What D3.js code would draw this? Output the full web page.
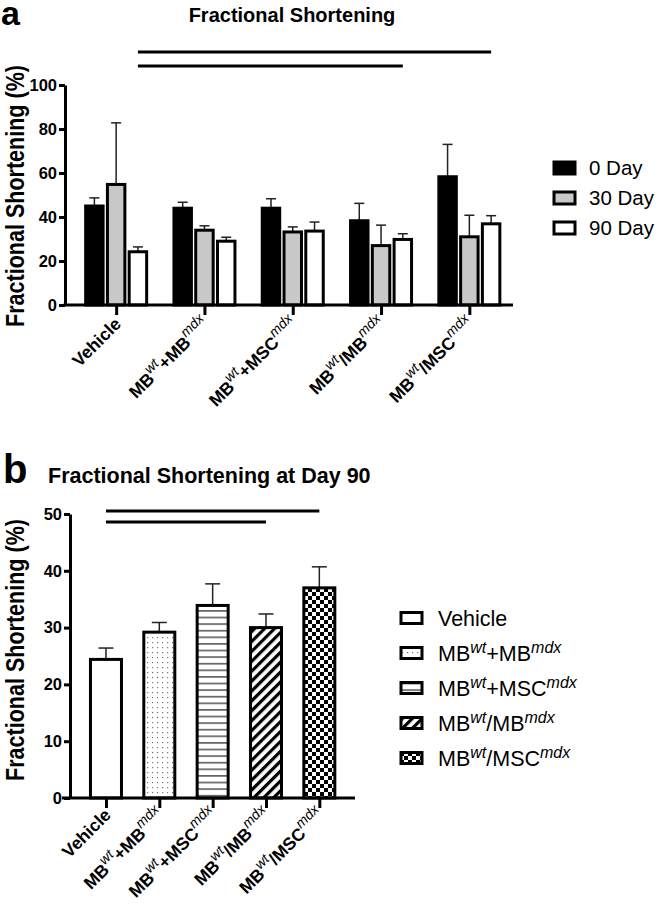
<!DOCTYPE html>
<html><head><meta charset="utf-8">
<script src="https://cdn.jsdelivr.net/npm/d3@7"></script>
<style>body{margin:0;background:#fff}svg{display:block}text{font-family:"Liberation Sans",Arial,sans-serif}</style>
</head><body>
<svg id="c" width="657" height="904"></svg>
<script>
// ---- data ----
const groups = ["Vehicle","MB+MB","MB+MSC","MB/MB","MB/MSC"];
const groupLabels = [
  [["Vehicle",""]],
  [["MB",""],["wt","sup"],["+MB",""],["mdx","sup"]],
  [["MB",""],["wt","sup"],["+MSC",""],["mdx","sup"]],
  [["MB",""],["wt","sup"],["/MB",""],["mdx","sup"]],
  [["MB",""],["wt","sup"],["/MSC",""],["mdx","sup"]]
];
const series = ["0 Day","30 Day","90 Day"];
const day0 = [45, 44, 44, 38.3, 58.3];
const day0Err = [48.7, 46.7, 48.3, 46.2, 73];
const day30 = [54.8, 34, 33.2, 27, 31];
const day30Err = [82.8, 36, 35.5, 36.3, 40.8];
const day90 = [24.2, 29, 33.6, 29.8, 36.9];
const day90Err = [26.4, 30.8, 37.7, 32.4, 40.6];
const yTicksA = [0,20,40,60,80,100];

const d90Values = [24.4, 29.2, 33.9, 30.0, 37.0];
const d90Err = [26.4, 30.9, 37.7, 32.4, 40.7];
const yTicksB = [0,10,20,30,40,50];
const patterns = ["none","dots","hlines","diag","checker"];

const svg = d3.select("#c");
const FONT = '"Liberation Sans",Arial,sans-serif';

// ---- pattern defs ----
const defs = svg.append("defs");
let p = defs.append("pattern").attr("id","dots").attr("patternUnits","userSpaceOnUse").attr("width",5).attr("height",5);
p.append("rect").attr("width",5).attr("height",5).attr("fill","#fff");
p.append("rect").attr("x",2).attr("y",2).attr("width",1.2).attr("height",1.2).attr("fill","#777");
p = defs.append("pattern").attr("id","hlines").attr("patternUnits","userSpaceOnUse").attr("width",6.6).attr("height",6.6);
p.append("rect").attr("width",6.6).attr("height",6.6).attr("fill","#fff");
p.append("rect").attr("x",0).attr("y",3).attr("width",6.6).attr("height",1.4).attr("fill","#444");
p = defs.append("pattern").attr("id","diag").attr("patternUnits","userSpaceOnUse").attr("width",7).attr("height",7).attr("patternTransform","rotate(45)");
p.append("rect").attr("width",7).attr("height",7).attr("fill","#fff");
p.append("rect").attr("x",0).attr("y",0).attr("width",3.2).attr("height",7).attr("fill","#000");
p = defs.append("pattern").attr("id","checker").attr("patternUnits","userSpaceOnUse").attr("width",8).attr("height",8);
p.append("rect").attr("width",8).attr("height",8).attr("fill","#fff");
p.append("rect").attr("x",0).attr("y",0).attr("width",4).attr("height",4).attr("fill","#000");
p.append("rect").attr("x",4).attr("y",4).attr("width",4).attr("height",4).attr("fill","#000");
const patFill = k => k==="none" ? "#fff" : `url(#${k})`;

const LBL = 17.5, TICK = 16.5;
function addLabel(sel, parts, size){
  parts.forEach(([t,kind])=>{
    const ts = sel.append("tspan").text(t);
    if(kind==="sup"){ts.attr("font-size",size*0.8).attr("font-style","italic").attr("font-weight","normal").attr("baseline-shift","super");}
  });
}
function yLabel(x, yc){
  svg.append("text").attr("transform",`translate(${x},${yc}) rotate(-90)`).attr("text-anchor","middle")
    .attr("font-size",25).attr("font-weight","bold")
    .attr("textLength",262).attr("lengthAdjust","spacingAndGlyphs")
    .text("Fractional Shortening (%)");
}

// ================= PANEL A =================
const A = {left:65, right:513, top:85, bottom:305};
const yA = d3.scaleLinear().domain([0,100]).range([A.bottom, A.top]);
const xA = d3.scalePoint().domain(groups).range([72,513.5]).padding(0.5);
const subA = d3.scaleBand().domain(series).range([-32,32]).paddingInner(0.06);
const fillsA = ["#000","#c8c8c8","#fff"];
const valsA = [day0, day30, day90];
const errsA = [day0Err, day30Err, day90Err];

svg.append("text").attr("x",1).attr("y",25).attr("font-size",34).attr("font-weight","bold").text("a");
svg.append("text").attr("x",292).attr("y",22).attr("text-anchor","middle").attr("font-size",20).attr("font-weight","bold").text("Fractional Shortening");

// error bars
series.forEach((s,si)=>{
  groups.forEach((g,gi)=>{
    const cx = xA(g)+subA(s)+subA.bandwidth()/2;
    svg.append("line").attr("x1",cx).attr("x2",cx).attr("y1",yA(valsA[si][gi])).attr("y2",yA(errsA[si][gi])).attr("stroke","#222").attr("stroke-width",1.5);
    svg.append("line").attr("x1",cx-5).attr("x2",cx+5).attr("y1",yA(errsA[si][gi])).attr("y2",yA(errsA[si][gi])).attr("stroke","#222").attr("stroke-width",1.5);
  });
});
// bars
series.forEach((s,si)=>{
  svg.append("g").selectAll("rect").data(groups).join("rect")
    .attr("x",g=>xA(g)+subA(s)+1.5)
    .attr("y",(g,gi)=>yA(valsA[si][gi]))
    .attr("width",subA.bandwidth()-3)
    .attr("height",(g,gi)=>A.bottom-yA(valsA[si][gi]))
    .attr("fill",fillsA[si]).attr("stroke","#000").attr("stroke-width",3);
});
// y axis
const gyA = svg.append("g").attr("transform",`translate(${A.left},0)`)
  .call(d3.axisLeft(yA).tickValues(yTicksA).tickSize(6).tickSizeOuter(0));
gyA.select(".domain").attr("stroke-width",3);
gyA.selectAll(".tick line").attr("stroke-width",3);
gyA.selectAll(".tick text").attr("font-size",TICK).attr("font-weight","bold").attr("font-family",FONT).attr("fill","#000").attr("x",-8);
// x axis
const gxA = svg.append("g").attr("transform",`translate(0,${A.bottom})`)
  .call(d3.axisBottom(xA).tickSize(10).tickSizeOuter(0).tickFormat(""));
gxA.select(".domain").remove();
gxA.selectAll(".tick line").attr("stroke-width",3);
svg.append("line").attr("x1",A.left-1.5).attr("x2",A.right).attr("y1",A.bottom).attr("y2",A.bottom).attr("stroke","#000").attr("stroke-width",3);
groups.forEach((g,gi)=>{
  const t = svg.append("text").attr("text-anchor","end").attr("font-size",LBL).attr("font-weight","bold")
    .attr("transform",`translate(${xA(g)+6},${A.bottom+20}) rotate(-45)`);
  addLabel(t, groupLabels[gi], LBL);
});
yLabel(24, 196);
// significance lines
[[0,4,52],[0,3,66]].forEach(([a,b,y])=>{
  svg.append("line").attr("x1",xA(groups[a])+subA("90 Day")+subA.bandwidth()/2).attr("x2",xA(groups[b])+subA("90 Day")+subA.bandwidth()/2)
    .attr("y1",y).attr("y2",y).attr("stroke","#000").attr("stroke-width",3);
});
// legend
series.forEach((s,si)=>{
  const y = 168 + si*30;
  svg.append("rect").attr("x",554).attr("y",y-6).attr("width",21).attr("height",12).attr("fill",fillsA[si]).attr("stroke","#000").attr("stroke-width",3);
  svg.append("text").attr("x",589).attr("y",y+7).attr("font-size",20.5).text(s);
});

// ================= PANEL B =================
const B = {left:70, right:355, top:514, bottom:798};
const yB = d3.scaleLinear().domain([0,50]).range([B.bottom,B.top]);
const xB = d3.scalePoint().domain(groups).range([79.3,346]).padding(0.5);
const bw = 31;

svg.append("text").attr("x",3).attr("y",483).attr("font-size",40).attr("font-weight","bold").text("b");
svg.append("text").attr("x",48).attr("y",483).attr("font-size",21.5).attr("font-weight","bold").text("Fractional Shortening at Day 90");

groups.forEach((g,gi)=>{
  const cx = xB(g);
  svg.append("line").attr("x1",cx).attr("x2",cx).attr("y1",yB(d90Values[gi])).attr("y2",yB(d90Err[gi])).attr("stroke","#222").attr("stroke-width",1.5);
  svg.append("line").attr("x1",cx-7.5).attr("x2",cx+7.5).attr("y1",yB(d90Err[gi])).attr("y2",yB(d90Err[gi])).attr("stroke","#222").attr("stroke-width",1.5);
});
svg.append("g").selectAll("rect").data(groups).join("rect")
  .attr("x",g=>xB(g)-bw/2).attr("y",(g,gi)=>yB(d90Values[gi]))
  .attr("width",bw).attr("height",(g,gi)=>B.bottom-yB(d90Values[gi]))
  .attr("fill",(g,gi)=>patFill(patterns[gi])).attr("stroke","#000").attr("stroke-width",3);

const gyB = svg.append("g").attr("transform",`translate(${B.left},0)`)
  .call(d3.axisLeft(yB).tickValues(yTicksB).tickSize(6).tickSizeOuter(0));
gyB.select(".domain").attr("stroke-width",3);
gyB.selectAll(".tick line").attr("stroke-width",3);
gyB.selectAll(".tick text").attr("font-size",TICK).attr("font-weight","bold").attr("font-family",FONT).attr("fill","#000").attr("x",-8);
const gxB = svg.append("g").attr("transform",`translate(0,${B.bottom})`)
  .call(d3.axisBottom(xB).tickSize(10).tickSizeOuter(0).tickFormat(""));
gxB.select(".domain").remove();
gxB.selectAll(".tick line").attr("stroke-width",3);
svg.append("line").attr("x1",62).attr("x2",B.right).attr("y1",B.bottom).attr("y2",B.bottom).attr("stroke","#000").attr("stroke-width",3);
groups.forEach((g,gi)=>{
  const t = svg.append("text").attr("text-anchor","end").attr("font-size",LBL).attr("font-weight","bold")
    .attr("transform",`translate(${xB(g)+6},${B.bottom+18}) rotate(-45)`);
  addLabel(t, groupLabels[gi], LBL);
});
yLabel(24, 650);
[[0,4,511],[0,3,522]].forEach(([a,b,y])=>{
  svg.append("line").attr("x1",xB(groups[a])).attr("x2",xB(groups[b])).attr("y1",y).attr("y2",y).attr("stroke","#000").attr("stroke-width",3);
});
// legend
groups.forEach((g,gi)=>{
  const y = 618 + gi*35;
  svg.append("rect").attr("x",401).attr("y",y-5.5).attr("width",21).attr("height",11).attr("fill",patFill(patterns[gi])).attr("stroke","#000").attr("stroke-width",3);
  const t = svg.append("text").attr("x",438).attr("y",y+8).attr("font-size",21.5);
  groupLabels[gi].forEach(([s,k])=>{
    const ts = t.append("tspan").text(s);
    if(k==="sup") ts.attr("font-size",16).attr("font-style","italic").attr("baseline-shift","super");
  });
});
</script>
</body></html>
